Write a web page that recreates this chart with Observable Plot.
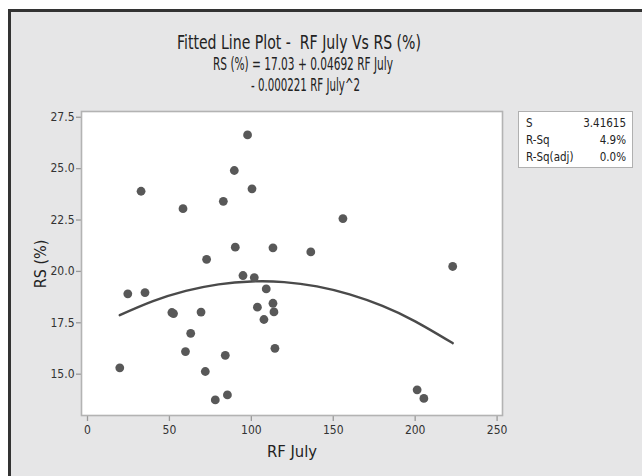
<!DOCTYPE html>
<html>
<head>
<meta charset="utf-8">
<script src="https://cdn.jsdelivr.net/npm/d3@7"></script>
<script src="https://cdn.jsdelivr.net/npm/@observablehq/plot@0.6"></script>
<style>
  html, body { margin: 0; padding: 0; background: #e6e6e7; overflow: hidden; width: 642px; height: 476px; }
  #page { position: relative; width: 642px; height: 476px; overflow: hidden; background: #ffffff;
          font-family: "DejaVu Sans Condensed", "Liberation Sans", sans-serif; color: #222; }
  #panel { position: absolute; left: 8px; top: 9px; width: 700px; height: 520px; background: #e6e6e7;
           border-left: 3px solid #333; border-top: 3px solid #333; border-right: none; border-bottom: none; box-sizing: border-box; }
  #chart { position: absolute; left: 0; top: 0; }
  .t { position: absolute; white-space: nowrap; line-height: 1; transform-origin: 0 0; }
  #legend { position: absolute; left: 518px; top: 111px; width: 115px; height: 57px; background: #fff;
            border: 1px solid #b0b0b0; box-sizing: border-box; font-size: 11.5px; }
  #legend .row { position: absolute; left: 7px; right: 6px; height: 14px; }
  #legend .row span:last-child { position: absolute; right: 0; }
</style>
</head>
<body>
<div id="page">
  <div id="panel"></div>
  <div id="chart"></div>
  <div class="t" id="title" style="font-size:19.5px;">Fitted Line Plot -&nbsp; RF July Vs RS (%)</div>
  <div class="t" id="sub1" style="font-size:17px;">RS (%) = 17.03 + 0.04692 RF July</div>
  <div class="t" id="sub2" style="font-size:17px;">- 0.000221 RF July^2</div>
  <div class="t" id="ylab" style="font-size:16px;">RS (%)</div>
  <div class="t" id="xlab" style="font-size:16px;">RF July</div>
  <div id="legend"></div>
</div>
<script>
const rfJuly = [19.7, 24.6, 32.7, 35.1, 51.5, 52.5, 58.3, 59.8, 63.0, 69.3, 71.9, 72.7, 78.0, 82.9, 84.1, 85.4, 89.6, 90.2, 94.9, 97.7, 100.4, 101.8, 103.7, 107.7, 109.1, 113.2, 113.2, 113.8, 114.4, 136.3, 155.9, 201.2, 205.3, 222.9];
const rsPct  = [15.31, 18.91, 23.90, 18.97, 18.00, 17.95, 23.05, 16.10, 16.99, 18.02, 15.13, 20.59, 13.75, 23.41, 15.92, 13.99, 24.91, 21.18, 19.80, 26.64, 24.02, 19.70, 18.26, 17.66, 19.15, 21.15, 18.45, 18.03, 16.26, 20.95, 22.57, 14.24, 13.82, 20.24];

// Fitted curve
const fitX = [19.7, 40, 60, 80, 100, 120, 140, 160, 180, 200, 222.9];
const fitY = [17.87, 18.55, 19.05, 19.37, 19.51, 19.48, 19.27, 18.88, 18.32, 17.57, 16.51];

// Axis ticks
const xTicks = [0, 50, 100, 150, 200, 250];
const yTicks = [15.0, 17.5, 20.0, 22.5, 25.0, 27.5];

// Summary table
const statNames = ["S", "R-Sq", "R-Sq(adj)"];
const statValues = ["3.41615", "4.9%", "0.0%"];

const points = rfJuly.map((x, i) => ({x, y: rsPct[i]}));
const fit = fitX.map((x, i) => ({x, y: fitY[i]}));

const chart = Plot.plot({
  width: 642,
  height: 476,
  marginLeft: 81,
  marginRight: 140,
  marginTop: 111,
  marginBottom: 61,
  style: {background: "transparent", fontFamily: "'DejaVu Sans Condensed', 'Liberation Sans', sans-serif", fontSize: "12px", color: "#333"},
  x: {domain: [-3.66, 253.3], ticks: xTicks, tickFormat: d3.format("d"), label: null},
  y: {domain: [12.99, 27.78], ticks: yTicks, tickFormat: d3.format(".1f"), label: null},
  marks: [
    Plot.frame({fill: "white", stroke: "none"}),
    Plot.axisX({ticks: xTicks, tickFormat: d3.format("d"), tickSize: 6, tickPadding: 4, stroke: "#9a9a9a", strokeWidth: 1.3, label: null, fill: "#333"}),
    Plot.axisY({ticks: yTicks, tickFormat: d3.format(".1f"), tickSize: 5, tickPadding: 2, stroke: "#9a9a9a", strokeWidth: 1.3, label: null, fill: "#333"}),
    Plot.frame({stroke: "#b3b3b3", strokeWidth: 1.6}),
    Plot.line(fit, {x: "x", y: "y", curve: "natural", stroke: "#4a4a4a", strokeWidth: 2.4}),
    Plot.dot(points, {x: "x", y: "y", r: 4.4, fill: "#585858", stroke: "none"})
  ]
});
document.getElementById("chart").appendChild(chart);

// Legend table
const legend = document.getElementById("legend");
statNames.forEach((n, i) => {
  const row = document.createElement("div");
  row.className = "row";
  row.style.top = (4 + i * 17) + "px";
  row.innerHTML = `<span>${n}</span><span>${statValues[i]}</span>`;
  legend.appendChild(row);
});

// Position text labels: left edge and target width, compressing horizontally
function fitText(id, left, top, targetW) {
  const el = document.getElementById(id);
  const w = el.getBoundingClientRect().width;
  el.style.left = left + "px";
  el.style.top = top + "px";
  el.style.transform = `scaleX(${targetW / w})`;
}
fitText("title", 177, 33, 244);
fitText("sub1", 213, 56, 180);
fitText("sub2", 251, 77, 109);
fitText("xlab", 267, 444, 50);
const yl = document.getElementById("ylab");
const yw = yl.getBoundingClientRect().width;
yl.style.left = (41 - yw / 2) + "px";
yl.style.top = (264 - 8) + "px";
yl.style.transformOrigin = "50% 50%";
yl.style.transform = "rotate(-90deg)";
</script>
</body>
</html>
